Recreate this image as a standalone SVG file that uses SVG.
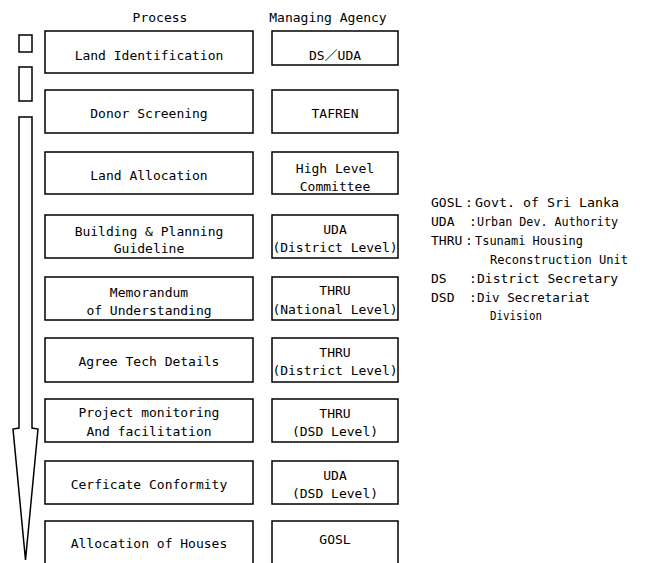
<svg xmlns="http://www.w3.org/2000/svg" width="647" height="563" viewBox="0 0 647 563">
<style>
text{font-family:"DejaVu Sans Mono","Liberation Mono","Noto Sans CJK JP",monospace;font-size:13px;fill:#000}
.c{text-anchor:middle}
.box{fill:#fff;stroke:#000;stroke-width:1.5}
.arr{fill:#fff;stroke:#000;stroke-width:1.5;stroke-linejoin:miter}
</style>
<rect width="647" height="563" fill="#fff"/>
<g id="headers">
<text class="c" x="160" y="22">Process</text>
<text class="c" x="328" y="22">Managing Agency</text>
</g>
<g id="connectors">
<rect class="arr" x="19" y="35" width="13" height="17"/>
<rect class="arr" x="19" y="67" width="13" height="34"/>
<polygon class="arr" points="19,117 32,117 32,428 38,429 25.5,560 13,429 19,428"/>
</g>
<g id="p1"><rect class="box" x="45" y="31" width="208" height="42"/><text class="c" x="149" y="60">Land Identification</text></g>
<g id="a1"><rect class="box" x="272" y="31" width="126" height="34"/><text class="c" x="335" y="60">DS／UDA</text></g>
<g id="p2"><rect class="box" x="45" y="90" width="208" height="43"/><text class="c" x="149" y="118">Donor Screening</text></g>
<g id="a2"><rect class="box" x="272" y="90" width="126" height="43"/><text class="c" x="335" y="118">TAFREN</text></g>
<g id="p3"><rect class="box" x="45" y="152" width="208" height="42"/><text class="c" x="149" y="180">Land Allocation</text></g>
<g id="a3"><rect class="box" x="272" y="152" width="126" height="42"/><text class="c" x="335" y="173">High Level</text><text class="c" x="335" y="191">Committee</text></g>
<g id="p4"><rect class="box" x="45" y="215" width="208" height="43"/><text class="c" x="149" y="236">Building &amp; Planning</text><text class="c" x="149" y="253">Guideline</text></g>
<g id="a4"><rect class="box" x="272" y="215" width="126" height="43"/><text class="c" x="335" y="234">UDA</text><text class="c" x="335" y="252">(District Level)</text></g>
<g id="p5"><rect class="box" x="45" y="277" width="208" height="43"/><text class="c" x="149" y="297">Memorandum</text><text class="c" x="149" y="315">of Understanding</text></g>
<g id="a5"><rect class="box" x="272" y="277" width="126" height="43"/><text class="c" x="335" y="295">THRU</text><text class="c" x="335" y="314">(National Level)</text></g>
<g id="p6"><rect class="box" x="45" y="338" width="208" height="44"/><text class="c" x="149" y="366">Agree Tech Details</text></g>
<g id="a6"><rect class="box" x="272" y="338" width="126" height="44"/><text class="c" x="335" y="357">THRU</text><text class="c" x="335" y="375">(District Level)</text></g>
<g id="p7"><rect class="box" x="45" y="399" width="208" height="43"/><text class="c" x="149" y="417">Project monitoring</text><text class="c" x="149" y="436">And facilitation</text></g>
<g id="a7"><rect class="box" x="272" y="399" width="126" height="43"/><text class="c" x="335" y="418">THRU</text><text class="c" x="335" y="436">(DSD Level)</text></g>
<g id="p8"><rect class="box" x="45" y="461" width="208" height="43"/><text class="c" x="149" y="489">Cerficate Conformity</text></g>
<g id="a8"><rect class="box" x="272" y="461" width="126" height="43"/><text class="c" x="335" y="480">UDA</text><text class="c" x="335" y="498">(DSD Level)</text></g>
<g id="p9"><rect class="box" x="45" y="521" width="208" height="60"/><text class="c" x="149" y="548">Allocation of Houses</text></g>
<g id="a9"><rect class="box" x="272" y="521" width="126" height="60"/><text class="c" x="335" y="544">GOSL</text></g>
<g id="legend">
<text x="431" y="207">GOSL</text><text x="465" y="207">:</text><text x="475" y="207" textLength="144" lengthAdjust="spacingAndGlyphs">Govt. of Sri Lanka</text>
<text x="431" y="226">UDA</text><text x="469" y="226">:</text><text x="477" y="226" textLength="141" lengthAdjust="spacingAndGlyphs">Urban Dev. Authority</text>
<text x="431" y="245">THRU</text><text x="465" y="245">:</text><text x="475" y="245" textLength="108" lengthAdjust="spacingAndGlyphs">Tsunami Housing</text>
<text x="490" y="264" textLength="138" lengthAdjust="spacingAndGlyphs">Reconstruction Unit</text>
<text x="431" y="283">DS</text><text x="469" y="283">:</text><text x="477" y="283" textLength="141" lengthAdjust="spacingAndGlyphs">District Secretary</text>
<text x="431" y="302">DSD</text><text x="469" y="302">:</text><text x="477" y="302" textLength="113" lengthAdjust="spacingAndGlyphs">Div Secretariat</text>
<text x="490" y="320" textLength="52" lengthAdjust="spacingAndGlyphs">Division</text>
</g>
</svg>
